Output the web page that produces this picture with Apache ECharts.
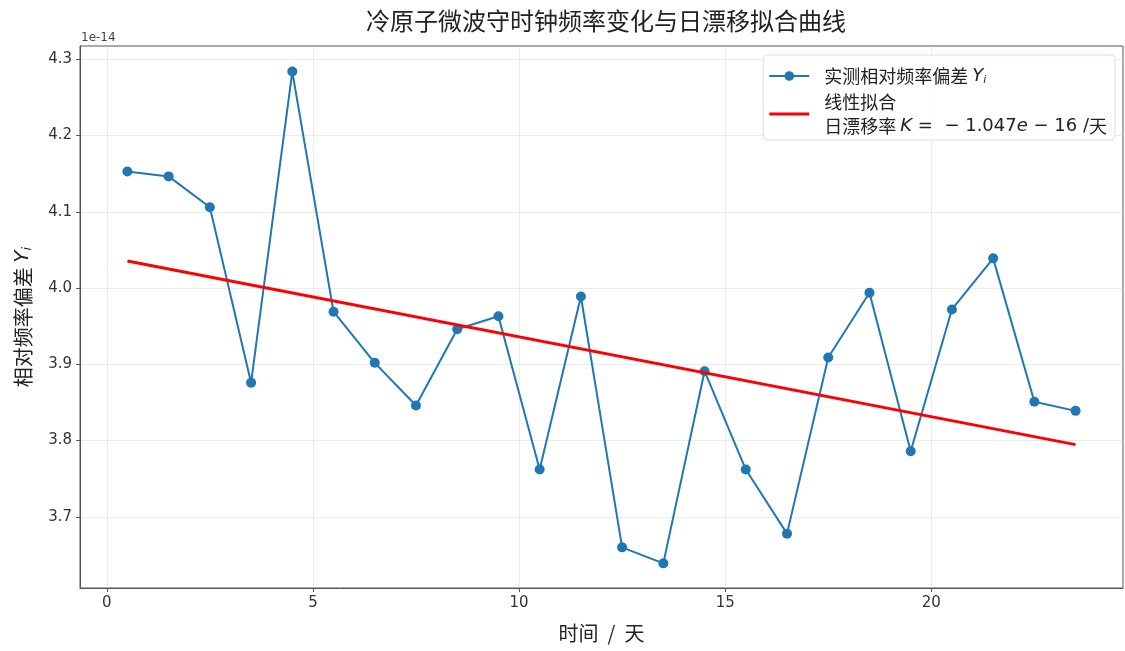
<!DOCTYPE html>
<html>
<head>
<meta charset="utf-8">
<script src="https://cdn.jsdelivr.net/npm/echarts@6/dist/echarts.min.js"></script>
<style>
  html, body { margin: 0; padding: 0; background: #fff; }
  #chart { width: 1125px; height: 651px; }
</style>
</head>
<body>
<div id="chart"></div>
<script>
// Days at which the frequency offset was measured
const days = [0.5, 1.5, 2.5, 3.5, 4.5, 5.5, 6.5, 7.5, 8.5, 9.5, 10.5, 11.5,
              12.5, 13.5, 14.5, 15.5, 16.5, 17.5, 18.5, 19.5, 20.5, 21.5, 22.5, 23.5];
// Measured relative frequency offset Y_i, in units of 1e-14
const offsets = [4.153, 4.1465, 4.106, 3.876, 4.284, 3.969, 3.902, 3.846, 3.946, 3.963, 3.762, 3.989,
                 3.660, 3.639, 3.891, 3.762, 3.678, 3.909, 3.994, 3.786, 3.972, 4.039, 3.851, 3.839];
// Linear fit end points (slope K = -1.047e-16 per day), in units of 1e-14
const fitDays = [0.5, 23.5];
const fitValues = [4.0355, 3.7947];
// Tick positions
const xTicks = [0, 5, 10, 15, 20];
const yTicks = [3.7, 3.8, 3.9, 4.0, 4.1, 4.2, 4.3];

const measured = days.map((d, i) => [d, offsets[i]]);
const fitted = fitDays.map((d, i) => [d, fitValues[i]]);

const FONT = '"DejaVu Sans", "Noto Sans CJK SC", sans-serif';
const CJK = '"Noto Sans CJK SC", "DejaVu Sans", sans-serif';
const AXIS = '#555';
const GRID = 'rgba(200,200,200,0.35)';

const chart = echarts.init(document.getElementById('chart'), null, { renderer: 'canvas' });

chart.setOption({
  animation: false,
  backgroundColor: '#fff',
  title: {
    text: '冷原子微波守时钟频率变化与日漂移拟合曲线',
    left: 601,
    textAlign: 'center',
    top: 4,
    textStyle: { fontFamily: CJK, fontSize: 24, fontWeight: 'normal', color: '#222' }
  },
  grid: {
    left: 80, right: 2, top: 46, bottom: 63,
    outerBoundsMode: 'none',
    containLabel: false,
    show: true, borderColor: AXIS, borderWidth: 1, backgroundColor: 'transparent'
  },
  graphic: [{
    type: 'text',
    left: 81, top: 32,
    style: { text: '1e-14', font: '12px ' + FONT, fill: '#444' }
  }],
  legend: {
    orient: 'vertical',
    right: 10, top: 55,
    padding: [11, 8, 5, 5],
    itemGap: 7,
    itemWidth: 40, itemHeight: 12,
    backgroundColor: 'rgba(255,255,255,0.85)',
    borderColor: '#ddd', borderWidth: 1, borderRadius: 4,
    data: [
      { name: '实测相对频率偏差' },
      { name: '线性拟合', icon: 'path://M0 0H100V8H0Z' }
    ],
    formatter: function (name) {
      if (name === '线性拟合') {
        return '{t|线性拟合}\n{t|日漂移率 }{i|K}{m| =  − 1.047}{i|e}{m| − 16 /}{t|天}';
      }
      return '{t|实测相对频率偏差 }{i|Y}{s|i}';
    },
    textStyle: {
      color: '#222',
      padding: [0, 0, 0, 10],
      rich: {
        t: { fontFamily: CJK, fontSize: 18, color: '#222', lineHeight: 24 },
        m: { fontFamily: FONT, fontSize: 18, color: '#222', lineHeight: 24 },
        i: { fontFamily: FONT, fontStyle: 'italic', fontSize: 18, color: '#222', lineHeight: 24 },
        s: { fontFamily: FONT, fontStyle: 'italic', fontSize: 11, color: '#222', padding: [9, 0, 0, 0], lineHeight: 24 }
      }
    }
  },
  xAxis: {
    type: 'value',
    min: -0.65, max: 24.65,
    name: '时间  /  天',
    nameLocation: 'middle',
    nameGap: 35,
    nameTextStyle: { fontFamily: CJK, fontSize: 20, color: '#222' },
    axisLine: { show: true, onZero: false, lineStyle: { color: AXIS, width: 1 } },
    axisTick: { show: true, length: 4, inside: false, customValues: xTicks, lineStyle: { color: AXIS } },
    axisLabel: { customValues: xTicks, fontFamily: FONT, fontSize: 15, color: '#333', margin: 8,
                 formatter: v => String(v) },
    splitLine: { show: true, lineStyle: { color: GRID, width: 1 } }
  },
  yAxis: {
    type: 'value',
    min: 3.6067, max: 4.3175,
    name: '{n|相对频率偏差 }{y|Y}{s|i}',
    nameLocation: 'middle',
    nameGap: 46,
    nameRotate: 90,
    nameTextStyle: {
      rich: {
        n: { fontFamily: CJK, fontSize: 20, color: '#222' },
        y: { fontFamily: FONT, fontStyle: 'italic', fontSize: 20, color: '#222' },
        s: { fontFamily: FONT, fontStyle: 'italic', fontSize: 13, color: '#222', padding: [9, 0, 0, 0] }
      }
    },
    axisLine: { show: true, onZero: false, lineStyle: { color: AXIS, width: 1 } },
    axisTick: { show: true, length: 4, inside: false, customValues: yTicks, lineStyle: { color: AXIS } },
    axisLabel: { customValues: yTicks, fontFamily: FONT, fontSize: 15, color: '#333', margin: 8,
                 formatter: v => Number(v).toFixed(1) },
    splitLine: { show: true, lineStyle: { color: GRID, width: 1 } }
  },
  series: [
    {
      name: '实测相对频率偏差',
      type: 'line',
      data: measured,
      symbol: 'circle',
      symbolSize: 10,
      itemStyle: { color: '#1f77b4' },
      lineStyle: { color: '#1f77b4', width: 2 },
      z: 3
    },
    {
      name: '线性拟合',
      type: 'line',
      data: fitted,
      symbol: 'none',
      itemStyle: { color: '#ff0000' },
      lineStyle: { color: '#ff0000', width: 3 },
      z: 4
    }
  ]
});
</script>
</body>
</html>
